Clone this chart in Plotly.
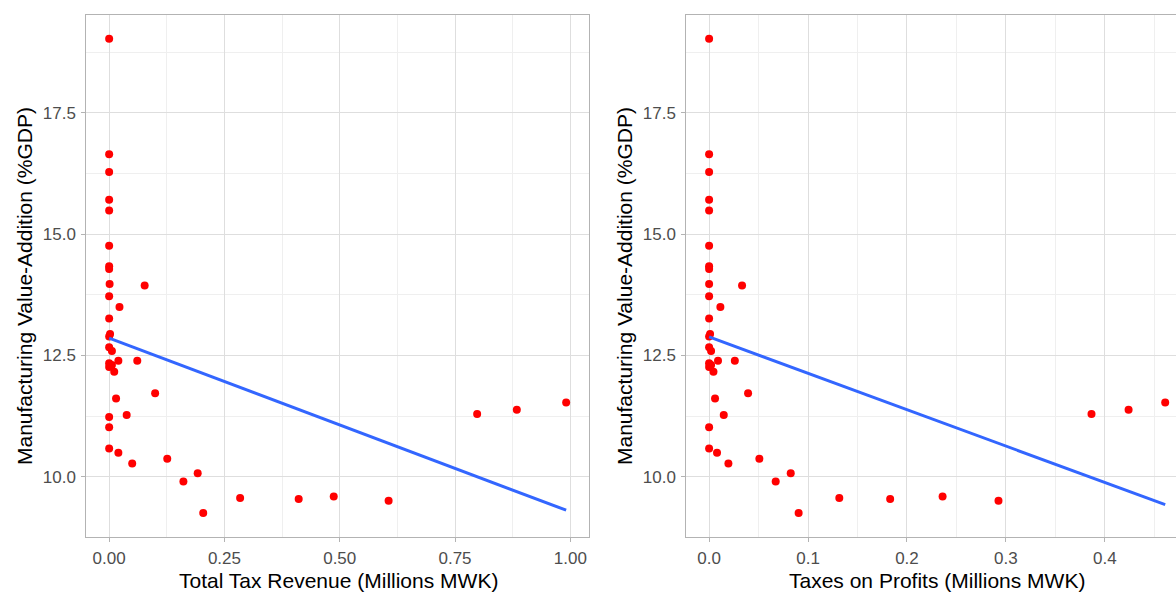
import numpy as np
import plotly.graph_objects as go

# ---- data ----
mva_pct_gdp = [19.03, 16.65, 16.28, 15.71, 15.49, 14.76, 14.34, 14.28, 13.97, 13.94,
               13.72, 13.50, 13.26, 12.94, 12.89, 12.67, 12.59, 12.39, 12.39, 12.34,
               12.30, 12.26, 12.16, 11.72, 11.61, 11.27, 11.23, 11.02, 10.58, 10.49,
               10.37, 10.27, 10.07, 9.90, 9.56, 9.54, 9.59, 9.50, 9.25, 11.29,
               11.38, 11.53]
total_tax_revenue = [0.0, 0.0, 0.0, 0.0, 0.0, 0.0, 0.0, 0.0, 0.001, 0.077,
                     0.0, 0.0224, 0.0, 0.002, 0.0, 0.0, 0.006, 0.020, 0.061, 0.0,
                     0.006, 0.0, 0.011, 0.0997, 0.015, 0.038, 0.0, 0.0, 0.0, 0.020,
                     0.126, 0.050, 0.192, 0.161, 0.284, 0.411, 0.487, 0.606, 0.204, 0.798,
                     0.884, 0.991]
taxes_on_profits = [0.0, 0.0, 0.0, 0.0, 0.0, 0.0, 0.0, 0.0, 0.0, 0.0333,
                    0.0, 0.0114, 0.0, 0.001, 0.0, 0.0, 0.002, 0.009, 0.026, 0.0,
                    0.002, 0.0, 0.0044, 0.0394, 0.006, 0.0148, None, 0.0, 0.0, 0.008,
                    0.0508, 0.0195, 0.0825, 0.0673, 0.1316, 0.183, 0.236, 0.2925, 0.0905, 0.3865,
                    0.424, 0.461]

x_titles = ["Total Tax Revenue (Millions MWK)", "Taxes on Profits (Millions MWK)"]
y_title = "Manufacturing Value-Addition (%GDP)"
left_ticks = [0.0, 0.25, 0.5, 0.75, 1.0]
left_ticktext = ["0.00", "0.25", "0.50", "0.75", "1.00"]
right_ticks = [0.0, 0.1, 0.2, 0.3, 0.4]
right_ticktext = ["0.0", "0.1", "0.2", "0.3", "0.4"]
y_ticks = [10.0, 12.5, 15.0, 17.5]
y_ticktext = ["10.0", "12.5", "15.0", "17.5"]


def lm_line(x, y):
    xa = np.array([np.nan if v is None else v for v in x], dtype=float)
    ya = np.array(y, dtype=float)
    m = ~np.isnan(xa)
    slope, icpt = np.polyfit(xa[m], ya[m], 1)
    xs = np.array([xa[m].min(), xa[m].max()])
    return xs, icpt + slope * xs


W, H = 1176, 592
FONT = "Liberation Sans, Arial, sans-serif"
GRID = "#DEDEDE"
MINOR = "#EFEFEF"
BORDER = "#B3B3B3"
TICKC = "#4D4D4D"
TICK_SIZE = 17
TITLE_SIZE = 21

fig = go.Figure()

for i, xs in enumerate([total_tax_revenue, taxes_on_profits]):
    xa = "x" if i == 0 else "x2"
    ya = "y" if i == 0 else "y2"
    lx, ly = lm_line(xs, mva_pct_gdp)
    fig.add_trace(go.Scatter(x=xs, y=mva_pct_gdp, mode="markers",
                             marker=dict(color="#FF0000", size=8, line=dict(width=0)),
                             xaxis=xa, yaxis=ya, showlegend=False, cliponaxis=False))
    fig.add_trace(go.Scatter(x=lx, y=ly, mode="lines",
                             line=dict(color="#3366FF", width=3),
                             xaxis=xa, yaxis=ya, showlegend=False))

ydom = [1 - 536.7 / H, 1 - 15 / H]
ymin, ymax = min(mva_pct_gdp), max(mva_pct_gdp)
yspan = ymax - ymin
yrange = [ymin - 0.05 * yspan, ymax + 0.05 * yspan]

lx_all = [v for v in total_tax_revenue]
lspan = max(lx_all) - min(lx_all)
lrange = [min(lx_all) - 0.05 * lspan, max(lx_all) + 0.05 * lspan]

rx = [v for v in taxes_on_profits if v is not None]
rspan = max(rx) - min(rx)
r0 = min(rx) - 0.05 * rspan
# right panel is cut off by the picture edge: same px/unit as full panel
px_per_unit = (1188 - 686.3) / (1.1 * rspan)
rrange = [r0, r0 + (W - 686.3) / px_per_unit]

common_x = dict(showgrid=True, gridcolor=GRID, gridwidth=1, zeroline=False,
                showline=True, linecolor=BORDER, linewidth=1, mirror=True,
                ticks="outside", ticklen=4, tickcolor=BORDER, tickwidth=1,
                ticklabelstandoff=2,
                tickfont=dict(family=FONT, size=TICK_SIZE, color=TICKC))
common_y = dict(showgrid=True, gridcolor=GRID, gridwidth=1, zeroline=False,
                showline=True, linecolor=BORDER, linewidth=1,
                ticks="outside", ticklen=4, tickcolor=BORDER, tickwidth=1,
                ticklabelstandoff=2,
                tickfont=dict(family=FONT, size=TICK_SIZE, color=TICKC),
                tickvals=y_ticks, ticktext=y_ticktext, range=yrange,
                domain=ydom,
                minor=dict(showgrid=True, gridcolor=MINOR, gridwidth=1, dtick=1.25, tick0=10))

fig.update_layout(
    width=W, height=H, margin=dict(l=0, r=0, t=0, b=0),
    paper_bgcolor="white", plot_bgcolor="white",
    font=dict(family=FONT),
    xaxis=dict(common_x, domain=[86.3 / W, 589 / W], range=lrange,
               tickvals=left_ticks, ticktext=left_ticktext, anchor="y",
               minor=dict(showgrid=True, gridcolor=MINOR, gridwidth=1, dtick=0.125, tick0=0)),
    yaxis=dict(common_y, anchor="x", mirror=True),
    xaxis2=dict(common_x, domain=[686.3 / W, 1.0], range=rrange,
                tickvals=right_ticks, ticktext=right_ticktext, anchor="y2",
                minor=dict(showgrid=True, gridcolor=MINOR, gridwidth=1, dtick=0.05, tick0=0)),
    yaxis2=dict(common_y, anchor="x2", mirror=False),
)

ann = []
for cx, t in [(338 / W, x_titles[0]), (937 / W, x_titles[1])]:
    ann.append(dict(x=cx, y=1 - 580 / H, xref="paper", yref="paper", text=t,
                    showarrow=False, xanchor="center", yanchor="middle",
                    font=dict(family=FONT, size=TITLE_SIZE, color="#000000")))
for cx in [24 / W, 624 / W]:
    ann.append(dict(x=cx, y=1 - 286 / H, xref="paper", yref="paper", text=y_title,
                    showarrow=False, xanchor="center", yanchor="middle", textangle=-90,
                    font=dict(family=FONT, size=TITLE_SIZE, color="#000000")))
fig.update_layout(annotations=ann)

fig.write_html("out.html", config={"displayModeBar": False},
               post_script="document.body.style.margin='0';document.body.style.overflow='hidden';")
